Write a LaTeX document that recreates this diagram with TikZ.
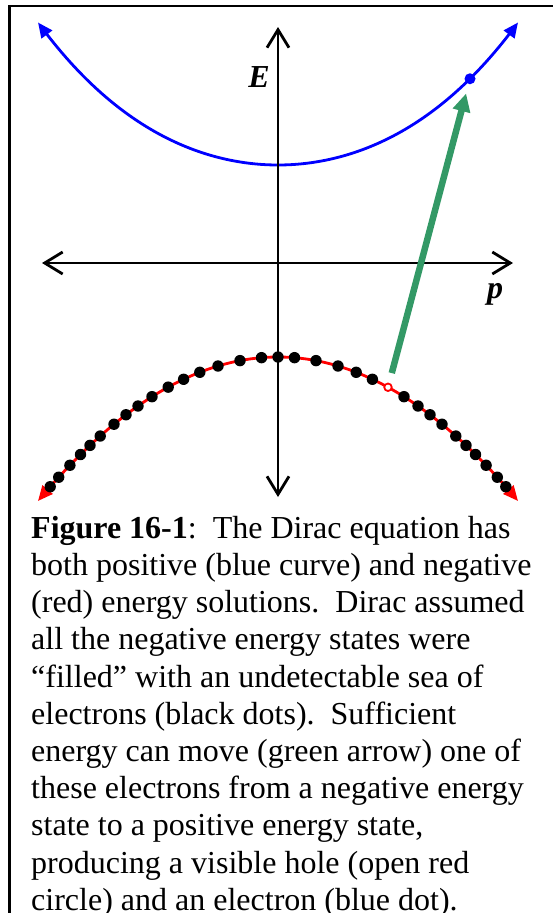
\documentclass[tikz,border=0pt]{standalone}
\usepackage{fontspec}
\setmainfont{Liberation Serif}
\usetikzlibrary{arrows.meta}
\definecolor{arrowgreen}{HTML}{339966}
\begin{document}
\begin{tikzpicture}[x=1pt,y=-1pt,
  axis/.style={line width=2.8pt, {Straight Barb[length=18pt,width=22pt]}-{Straight Barb[length=18pt,width=22pt]}},
  poscurve/.style={blue, line width=2.8pt, {Triangle[length=15pt,width=13pt]}-{Triangle[length=15pt,width=13pt]}},
  negcurve/.style={red, line width=2.8pt, {Triangle[length=15pt,width=13pt]}-{Triangle[length=15pt,width=13pt]}},
  sea/.style={circle, fill=black, inner sep=0pt, minimum size=11.4pt},
  electron/.style={circle, fill=blue, inner sep=0pt, minimum size=11pt},
  holedot/.style={circle, draw=red, fill=white, line width=1.8pt, inner sep=0pt, minimum size=7.5pt},
  jump/.style={arrowgreen, line width=6.5pt, -{Triangle[length=18pt,width=17pt]}, shorten <=10pt, shorten >=9.5pt},
  axlabel/.style={font=\bfseries\itshape\fontsize{32}{32}\selectfont, inner sep=0pt, anchor=base},
  caption/.style={font=\fontsize{32}{37.2}\selectfont, align=left, inner sep=0pt, anchor=north west}]
\useasboundingbox (0,0) rectangle (553,913);
% frame
\draw[line width=2.6pt] (9.3,913) -- (9.3,5.8) -- (553,5.8);
% curves
\draw[poscurve] plot[domain=38:518, samples=121] (\x, {165-21*((\x-278)/100)^2-0.65*((\x-278)/100)^4});
\draw[negcurve] plot[domain=38:518, samples=121] (\x, {357+25*((\x-278)/100)^2});
% axes
\coordinate (xl) at (42,263);
\coordinate (xr) at (513,263);
\coordinate (yt) at (278,27);
\coordinate (yb) at (278,497);
\draw[axis] (xl) -- (xr);
\draw[axis] (yb) -- (yt);
\node[axlabel] (Elab) at (259,87) {E};
\node[axlabel] (plab) at (495,298) {p};
% sea of electrons
\node[sea] (C) at (278,357) {};
\foreach \d [count=\i] in {16.5,38,60,78.2,94.4,109.8,126,140,152,164,177.8,188,197.5,208.1,219.3,227.8}
  \node[sea] (L\i) at ({278-\d},{357+25*(\d/100)^2}) {};
\foreach \d [count=\i] in {16.5,38,60,78.2,94.4,126,140,152,164,177.8,188,197.5,208.1,219.3,227.8}
  \node[sea] (R\i) at ({278+\d},{357+25*(\d/100)^2}) {};
% hole and excited electron
\node[holedot] (H) at (388,{357+25*1.1^2}) {};
\node[electron] (El) at (470,{165-21*1.92^2-0.65*1.92^4}) {};
\draw[jump] (H) -- (El);
% caption (first baseline at y=538)
\node[caption] (cap) at (31,513) {\rule{0pt}{25pt}\textbf{Figure 16-1}:\ \ The Dirac equation has\\
both positive (blue curve) and negative\\
(red) energy solutions.\ \ Dirac assumed\\
all the negative energy states were\\
“filled” with an undetectable sea of\\
electrons (black dots).\ \ Sufficient\\
energy can move (green arrow) one of\\
these electrons from a negative energy\\
state to a positive energy state,\\
producing a visible hole (open red\\
circle) and an electron (blue dot).};
\end{tikzpicture}
\end{document}
